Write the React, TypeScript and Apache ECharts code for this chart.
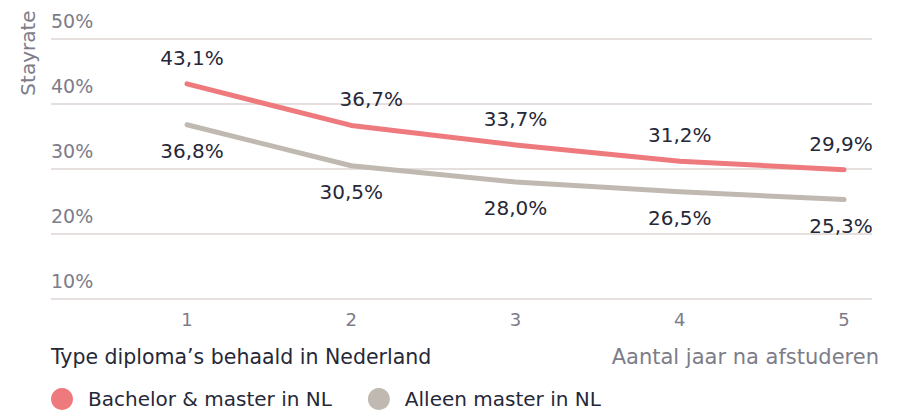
import React, { useEffect, useRef } from "react";
import * as echarts from "echarts";

const years = [1, 2, 3, 4, 5];
const bachelorMaster = [43.1, 36.7, 33.7, 31.2, 29.9];
const masterOnly = [36.8, 30.5, 28.0, 26.5, 25.3];
const seriesNames = ["Bachelor & master in NL", "Alleen master in NL"];
const yTicks = { min: 10, max: 50, interval: 10 };
const yAxisTitle = "Stayrate";
const legendTitle = "Type diploma’s behaald in Nederland";
const xAxisTitle = "Aantal jaar na afstuderen";

const FONT = "'DejaVu Sans', sans-serif";
const DARK = "#262838";
const GREY = "#7d7c89";
const RED = "#ef7a7e";
const TAUPE = "#c0b9b1";

const fmt = (v: number) => v.toFixed(1).replace(".", ",") + "%";

export default function App() {
  const ref = useRef<HTMLDivElement>(null);
  useEffect(() => {
    document.body.style.margin = "0";
    const chart = echarts.init(ref.current!, undefined, { renderer: "svg" });
    const mk = (vals: number[]) => years.map((x, i) => [x, vals[i]]);
    const labelShift = (i: number) =>
      i === 0 ? { offset: [5, 0] } : i === years.length - 1 ? { offset: [-3, 0] } : undefined;
    chart.setOption({
      animation: false,
      textStyle: { fontFamily: FONT },
      grid: { left: 51, right: 31, top: 39, height: 260 },
      xAxis: {
        type: "value",
        min: 0.172,
        max: 5.17,
        axisLine: { show: false },
        axisTick: { show: false },
        splitLine: { show: false },
        axisLabel: {
          customValues: years,
          color: GREY,
          fontSize: 18,
          fontFamily: FONT,
          margin: 11,
        },
      },
      yAxis: {
        type: "value",
        min: yTicks.min,
        max: yTicks.max,
        interval: yTicks.interval,
        axisLine: { show: false },
        axisTick: { show: false },
        splitLine: { lineStyle: { color: "#ddd5d2", width: 1.5 } },
        axisLabel: {
          inside: true,
          margin: 0,
          align: "left",
          verticalAlign: "bottom",
          padding: [0, 0, 9, 0],
          formatter: "{value}%",
          color: GREY,
          fontSize: 19,
          fontFamily: FONT,
        },
      },
      legend: {
        left: 51,
        top: 388,
        padding: 0,
        icon: "circle",
        itemWidth: 22,
        itemHeight: 22,
        itemGap: 36,
        data: seriesNames,
        textStyle: { color: DARK, fontSize: 20, fontFamily: FONT, padding: [0, 0, 0, 10] },
      },
      graphic: [
        {
          type: "text",
          x: 28,
          y: 53,
          rotation: Math.PI / 2,
          style: { text: yAxisTitle, fill: GREY, fontSize: 20, fontFamily: FONT, align: "center", verticalAlign: "middle" },
        },
        {
          type: "text",
          x: 51,
          y: 357,
          style: { text: legendTitle, fill: DARK, fontSize: 20.5, fontFamily: FONT, align: "left", verticalAlign: "middle" },
        },
        {
          type: "text",
          x: 879,
          y: 357,
          style: { text: xAxisTitle, fill: GREY, fontSize: 21, fontFamily: FONT, align: "right", verticalAlign: "middle" },
        },
      ],
      series: [
        {
          name: seriesNames[0],
          type: "line",
          data: mk(bachelorMaster).map((d, i) => ({
            value: d,
            label: i === 1 ? { offset: [20, 0] } : labelShift(i),
          })),
          symbol: "circle",
          symbolSize: 4,
          showSymbol: true,
          itemStyle: { color: RED },
          lineStyle: { color: RED, width: 5, cap: "round", join: "round" },
          label: {
            show: true,
            position: "top",
            distance: 14,
            color: DARK,
            fontSize: 20,
            fontFamily: FONT,
            formatter: (p: any) => fmt(p.value[1]),
          },
          z: 3,
        },
        {
          name: seriesNames[1],
          type: "line",
          data: mk(masterOnly).map((d, i) => ({ value: d, label: labelShift(i) })),
          symbol: "circle",
          symbolSize: 4,
          showSymbol: true,
          itemStyle: { color: TAUPE },
          lineStyle: { color: TAUPE, width: 5, cap: "round", join: "round" },
          label: {
            show: true,
            position: "bottom",
            distance: 14,
            color: DARK,
            fontSize: 20,
            fontFamily: FONT,
            formatter: (p: any) => fmt(p.value[1]),
          },
          z: 2,
        },
      ],
    });
    return () => chart.dispose();
  }, []);
  return <div ref={ref} style={{ width: 903, height: 412 }} />;
}
